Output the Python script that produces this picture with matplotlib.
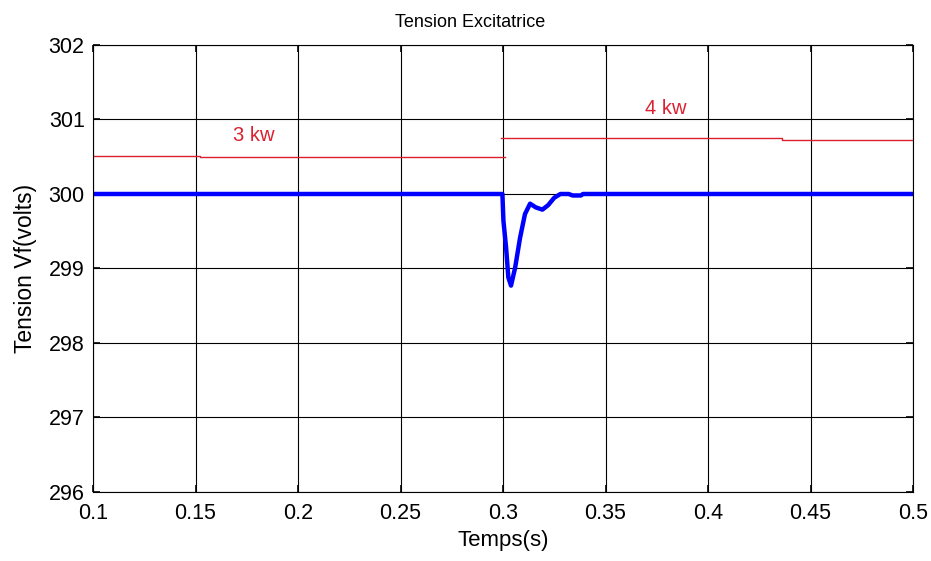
import numpy as np
import matplotlib
matplotlib.use("Agg")
import matplotlib.pyplot as plt

plt.rcParams["font.family"] = ["Liberation Sans", "DejaVu Sans"]

# blue: excitation voltage
t_vf = [0.1, 0.2997, 0.3002, 0.3015, 0.3026, 0.3039, 0.3059, 0.3083, 0.3107,
        0.3132, 0.316, 0.3192, 0.322, 0.325, 0.328, 0.332, 0.334, 0.338, 0.339, 0.5]
vf = [300.0, 300.0, 299.64, 299.28, 298.88, 298.77, 299.01, 299.41, 299.73,
      299.87, 299.82, 299.79, 299.85, 299.95, 300.0, 300.0, 299.98, 299.98, 300.0, 300.0]

# red: reference levels
t_ref1 = [0.1, 0.152, 0.152, 0.301]
ref1 = [300.51, 300.51, 300.50, 300.50]
t_ref2 = [0.299, 0.436, 0.436, 0.5]
ref2 = [300.75, 300.75, 300.73, 300.73]

xticks = [0.1, 0.15, 0.2, 0.25, 0.3, 0.35, 0.4, 0.45, 0.5]
yticks = [296, 297, 298, 299, 300, 301, 302]

fig = plt.figure(figsize=(9.31, 5.61), dpi=100)
ax = fig.add_axes([0.0999, 0.123, 0.8808, 0.7968])

ax.plot(t_ref1, ref1, color="#dc2030", lw=1.0)
ax.plot(t_ref2, ref2, color="#dc2030", lw=1.0)
ax.plot(t_vf, vf, color="#0000ff", lw=3.2)

ax.text(0.1685, 300.78, "3 kw", color="#dc2030", fontsize=14.5, va="center")
ax.text(0.3695, 301.15, "4 kw", color="#dc2030", fontsize=14.5, va="center")

ax.set_xlim(0.1, 0.5)
ax.set_ylim(296, 302)
ax.set_xticks(xticks)
ax.set_xticklabels([f"{v:g}" for v in xticks])
ax.set_yticks(yticks)
ax.grid(True, color="black", lw=0.8)
ax.tick_params(direction="in", top=True, right=True, labelsize=15.5, length=5, width=1.2)
ax.tick_params(axis="x", pad=8)
ax.tick_params(axis="y", pad=6)
for s in ax.spines.values():
    s.set_linewidth(0.8)

ax.set_title("Tension Excitatrice", fontsize=13, pad=13, x=0.46)
ax.set_xlabel("Temps(s)", fontsize=16, labelpad=4)
ax.set_ylabel("Tension Vf(volts)", fontsize=16.5, labelpad=8)

fig.savefig("out.png", dpi=100)
